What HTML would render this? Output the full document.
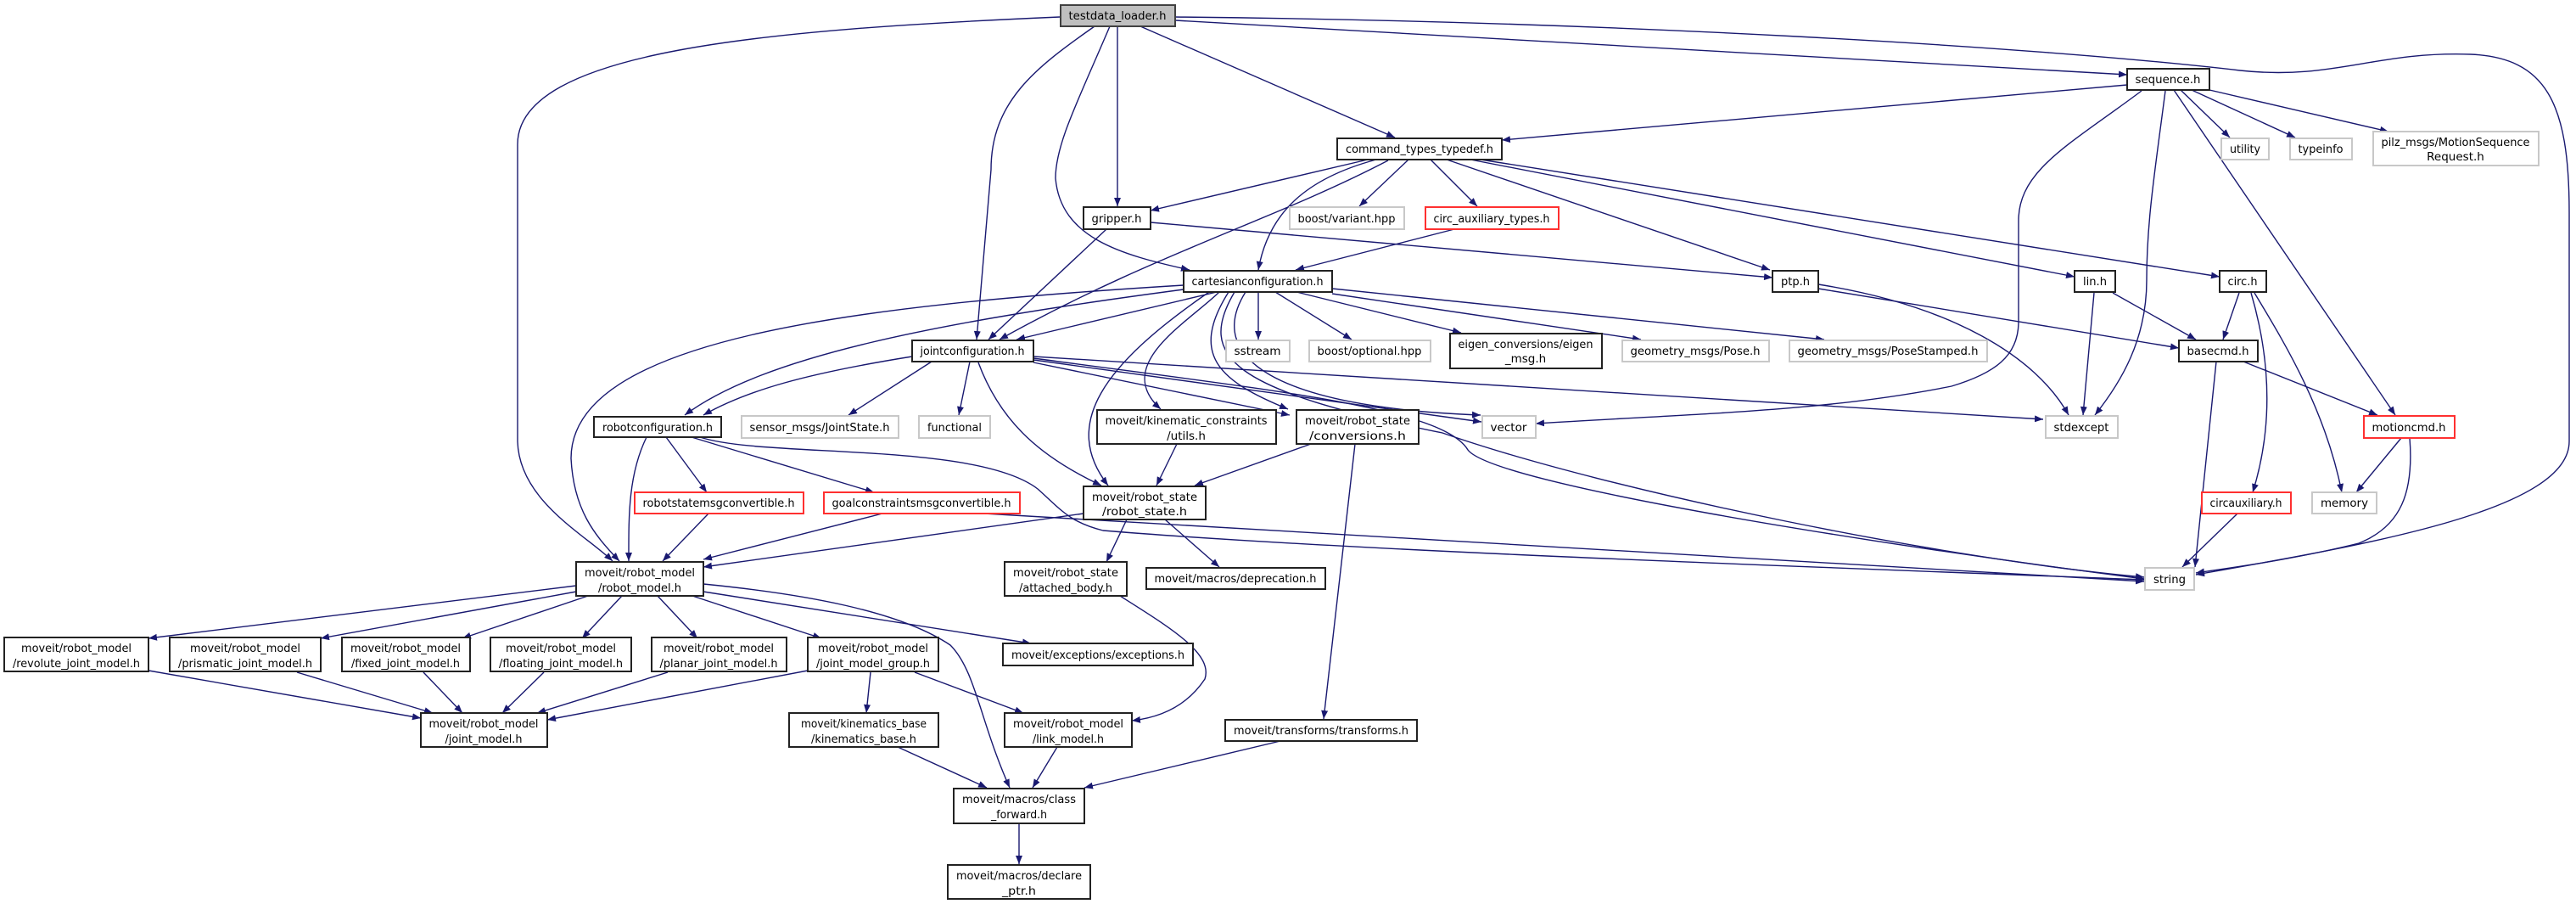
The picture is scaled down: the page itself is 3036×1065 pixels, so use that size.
<!DOCTYPE html>
<html><head><meta charset="utf-8"><style>
html,body{margin:0;padding:0;background:#fff;}
svg{display:block}
text{font-family:"DejaVu Sans","Liberation Sans",sans-serif;font-size:13.5px;fill:#000;text-anchor:middle}
.b{fill:#fff;stroke:#222;stroke-width:2}
.g{fill:#fff;stroke:#c8c8c8;stroke-width:2}
.r{fill:#fff;stroke:#ff3030;stroke-width:2}
.e{fill:none;stroke:#191970;stroke-width:1.4;marker-end:url(#a)}
</style></head><body>
<svg width="3036" height="1065" viewBox="0 0 3036 1065" xmlns="http://www.w3.org/2000/svg">
<defs><marker id="a" viewBox="0 0 10 8" refX="10" refY="4" markerWidth="10" markerHeight="8" markerUnits="userSpaceOnUse" orient="auto"><path d="M0,0 L10,4 L0,8 z" fill="#191970"/></marker></defs>
<g>
<path class="e" d="M1249,20 C900,35 610,60 610,170 L610,520 C612,590 690,630 722,661"/>
<path class="e" d="M1290,31 C1220,80 1168,120 1168,200 L1151,400"/>
<path class="e" d="M1308,31 C1270,120 1244,170 1244,210 C1250,280 1320,300 1402,318"/>
<path class="e" d="M1317,31 L1317,243"/>
<path class="e" d="M1344,31 L1644,162"/>
<path class="e" d="M1385,24 L2507,88"/>
<path class="e" d="M1385,20 C1900,25 2400,55 2640,83 C2750,95 2800,60 2912,64 C3000,68 3028,120 3028,250 L3028,520 C3028,600 2800,640 2588,677"/>
<path class="e" d="M2507,100 L1770,165"/>
<path class="e" d="M2570,106 L2628,162"/>
<path class="e" d="M2583,106 L2705,162"/>
<path class="e" d="M2604,106 L2815,155"/>
<path class="e" d="M2562,106 L2823,489"/>
<path class="e" d="M2552,107 C2540,200 2530,260 2530,330 C2530,400 2500,450 2469,489"/>
<path class="e" d="M2524,107 C2440,170 2379,200 2379,260 L2379,379 C2379,420 2350,440 2300,455 C2150,485 2000,487 1810,499"/>
<path class="e" d="M1612,188 L1356,248"/>
<path class="e" d="M1636,189 C1500,260 1357,300 1178,400"/>
<path class="e" d="M1622,188 C1540,210 1495,250 1483,318"/>
<path class="e" d="M1660,188 L1602,243"/>
<path class="e" d="M1686,188 L1741,243"/>
<path class="e" d="M1705,188 L2086,318"/>
<path class="e" d="M1733,188 L2445,326"/>
<path class="e" d="M1745,188 L2616,326"/>
<path class="e" d="M1304,270 L1165,400"/>
<path class="e" d="M1356,262 L2089,327"/>
<path class="e" d="M1714,270 L1527,318"/>
<path class="e" d="M1434,344 L1198,400"/>
<path class="e" d="M1395,336 C1000,360 673,400 673,540 C676,600 700,630 730,661"/>
<path class="e" d="M1395,341 C1100,380 900,420 807,489"/>
<path class="e" d="M1483,344 L1483,400"/>
<path class="e" d="M1503,344 L1593,400"/>
<path class="e" d="M1528,344 L1722,392"/>
<path class="e" d="M1570,346 L1934,400"/>
<path class="e" d="M1570,340 L2150,400"/>
<path class="e" d="M1437,344 C1400,380 1310,430 1368,482"/>
<path class="e" d="M1448,344 C1400,420 1440,450 1518,482"/>
<path class="e" d="M1468,344 C1420,420 1500,480 1745,489"/>
<path class="e" d="M1425,344 C1300,430 1250,500 1306,572"/>
<path class="e" d="M1455,344 C1410,420 1450,460 1700,510 C1900,580 2300,660 2527,680"/>
<path class="e" d="M1098,426 L1000,489"/>
<path class="e" d="M1143,426 L1130,489"/>
<path class="e" d="M1153,427 C1180,500 1230,540 1298,572"/>
<path class="e" d="M1218,427 L1520,489"/>
<path class="e" d="M1218,424 L1746,497"/>
<path class="e" d="M1218,420 L2408,494"/>
<path class="e" d="M1218,422 C1500,460 1700,480 1730,530 C1760,570 2200,640 2527,682"/>
<path class="e" d="M1075,420 C950,440 880,460 829,489"/>
<path class="e" d="M762,515 C740,560 741,610 741,661"/>
<path class="e" d="M785,515 L833,580"/>
<path class="e" d="M815,515 L1030,580"/>
<path class="e" d="M825,515 C900,540 1150,520 1223,576 C1250,600 1260,615 1300,625 C1600,650 2200,670 2527,683"/>
<path class="e" d="M1040,605 L829,659"/>
<path class="e" d="M1160,605 L2527,685"/>
<path class="e" d="M835,605 L781,661"/>
<path class="e" d="M1277,605 L829,668"/>
<path class="e" d="M1328,612 L1304,662"/>
<path class="e" d="M1373,612 L1437,668"/>
<path class="e" d="M1387,523 L1363,572"/>
<path class="e" d="M1545,523 L1408,572"/>
<path class="e" d="M1597,523 L1560,847"/>
<path class="e" d="M679,690 L175,752"/>
<path class="e" d="M679,697 L378,752"/>
<path class="e" d="M693,702 L545,752"/>
<path class="e" d="M733,702 L686,752"/>
<path class="e" d="M775,702 L822,752"/>
<path class="e" d="M816,702 L968,752"/>
<path class="e" d="M829,697 L1215,758"/>
<path class="e" d="M829,688 C950,700 1060,720 1120,760 C1150,790 1155,850 1190,928"/>
<path class="e" d="M175,790 L496,846"/>
<path class="e" d="M350,792 L510,840"/>
<path class="e" d="M499,792 L545,840"/>
<path class="e" d="M641,792 L592,840"/>
<path class="e" d="M787,792 L633,840"/>
<path class="e" d="M952,790 L645,848"/>
<path class="e" d="M1026,792 L1021,840"/>
<path class="e" d="M1078,792 L1206,840"/>
<path class="e" d="M1320,702 C1380,740 1430,770 1420,800 C1400,830 1370,845 1334,849"/>
<path class="e" d="M1058,880 L1163,928"/>
<path class="e" d="M1246,880 L1217,928"/>
<path class="e" d="M1509,873 L1278,928"/>
<path class="e" d="M1201,970 L1201,1018"/>
<path class="e" d="M2143,335 C2300,360 2400,420 2438,489"/>
<path class="e" d="M2143,340 L2568,410"/>
<path class="e" d="M2490,345 L2588,400"/>
<path class="e" d="M2468,345 L2455,489"/>
<path class="e" d="M2639,345 L2620,400"/>
<path class="e" d="M2653,345 C2675,420 2680,500 2655,580"/>
<path class="e" d="M2657,345 C2690,400 2740,480 2760,580"/>
<path class="e" d="M2612,426 L2587,668"/>
<path class="e" d="M2644,426 L2802,489"/>
<path class="e" d="M2830,516 L2777,580"/>
<path class="e" d="M2840,516 C2845,580 2830,620 2780,640 C2700,660 2620,670 2588,675"/>
<path class="e" d="M2637,605 L2572,668"/>
</g>
<g>
<rect x="1250" y="6" width="135" height="25" fill="#bfbfbf" stroke="#404040" stroke-width="2"/><text x="1317" y="23" textLength="115" lengthAdjust="spacingAndGlyphs">testdata_loader.h</text>
<rect class="b" x="1576" y="163" width="194" height="25"/><text x="1673" y="180" textLength="174" lengthAdjust="spacingAndGlyphs">command_types_typedef.h</text>
<rect class="b" x="1277" y="244" width="79" height="26"/><text x="1316" y="262" textLength="59" lengthAdjust="spacingAndGlyphs">gripper.h</text>
<rect class="g" x="1520" y="244" width="135" height="26"/><text x="1587" y="262" textLength="115" lengthAdjust="spacingAndGlyphs">boost/variant.hpp</text>
<rect class="r" x="1680" y="244" width="157" height="26"/><text x="1758" y="262" textLength="137" lengthAdjust="spacingAndGlyphs">circ_auxiliary_types.h</text>
<rect class="b" x="1395" y="319" width="175" height="25"/><text x="1482" y="336" textLength="155" lengthAdjust="spacingAndGlyphs">cartesianconfiguration.h</text>
<rect class="b" x="1075" y="401" width="143" height="25"/><text x="1146" y="418" textLength="123" lengthAdjust="spacingAndGlyphs">jointconfiguration.h</text>
<rect class="g" x="1445" y="401" width="75" height="25"/><text x="1482" y="418" textLength="55" lengthAdjust="spacingAndGlyphs">sstream</text>
<rect class="g" x="1543" y="401" width="143" height="25"/><text x="1614" y="418" textLength="123" lengthAdjust="spacingAndGlyphs">boost/optional.hpp</text>
<rect class="b" x="1709" y="393" width="179" height="41"/><text x="1798" y="410" textLength="159" lengthAdjust="spacingAndGlyphs">eigen_conversions/eigen</text><text x="1798" y="427">_msg.h</text>
<rect class="g" x="1912" y="401" width="173" height="25"/><text x="1998" y="418" textLength="153" lengthAdjust="spacingAndGlyphs">geometry_msgs/Pose.h</text>
<rect class="g" x="2109" y="401" width="233" height="25"/><text x="2225" y="418" textLength="213" lengthAdjust="spacingAndGlyphs">geometry_msgs/PoseStamped.h</text>
<rect class="g" x="874" y="490" width="185" height="26"/><text x="966" y="508" textLength="165" lengthAdjust="spacingAndGlyphs">sensor_msgs/JointState.h</text>
<rect class="g" x="1083" y="490" width="84" height="26"/><text x="1125" y="508" textLength="64" lengthAdjust="spacingAndGlyphs">functional</text>
<rect class="b" x="700" y="491" width="150" height="24"/><text x="775" y="508" textLength="130" lengthAdjust="spacingAndGlyphs">robotconfiguration.h</text>
<rect class="b" x="1293" y="483" width="211" height="40"/><text x="1398" y="500" textLength="191" lengthAdjust="spacingAndGlyphs">moveit/kinematic_constraints</text><text x="1398" y="518">/utils.h</text>
<rect class="b" x="1528" y="483" width="144" height="40"/><text x="1600" y="500" textLength="124" lengthAdjust="spacingAndGlyphs">moveit/robot_state</text><text x="1600" y="518" textLength="114" lengthAdjust="spacingAndGlyphs">/conversions.h</text>
<rect class="g" x="1747" y="490" width="63" height="26"/><text x="1778" y="508" textLength="43" lengthAdjust="spacingAndGlyphs">vector</text>
<rect class="b" x="2507" y="81" width="97" height="25"/><text x="2555" y="98" textLength="77" lengthAdjust="spacingAndGlyphs">sequence.h</text>
<rect class="g" x="2618" y="163" width="56" height="25"/><text x="2646" y="180" textLength="36" lengthAdjust="spacingAndGlyphs">utility</text>
<rect class="g" x="2699" y="163" width="73" height="25"/><text x="2735" y="180" textLength="53" lengthAdjust="spacingAndGlyphs">typeinfo</text>
<rect class="g" x="2797" y="155" width="195" height="40"/><text x="2894" y="172" textLength="175" lengthAdjust="spacingAndGlyphs">pilz_msgs/MotionSequence</text><text x="2894" y="189">Request.h</text>
<rect class="b" x="2089" y="319" width="54" height="25"/><text x="2116" y="336" textLength="34" lengthAdjust="spacingAndGlyphs">ptp.h</text>
<rect class="b" x="2445" y="319" width="48" height="25"/><text x="2469" y="336" textLength="28" lengthAdjust="spacingAndGlyphs">lin.h</text>
<rect class="b" x="2616" y="319" width="55" height="25"/><text x="2643" y="336" textLength="35" lengthAdjust="spacingAndGlyphs">circ.h</text>
<rect class="b" x="2568" y="401" width="93" height="25"/><text x="2614" y="418" textLength="73" lengthAdjust="spacingAndGlyphs">basecmd.h</text>
<rect class="g" x="2411" y="490" width="85" height="26"/><text x="2453" y="508" textLength="65" lengthAdjust="spacingAndGlyphs">stdexcept</text>
<rect class="r" x="2786" y="490" width="107" height="26"/><text x="2839" y="508" textLength="87" lengthAdjust="spacingAndGlyphs">motioncmd.h</text>
<rect class="r" x="2595" y="580" width="105" height="25"/><text x="2647" y="597" textLength="85" lengthAdjust="spacingAndGlyphs">circauxiliary.h</text>
<rect class="g" x="2725" y="580" width="76" height="25"/><text x="2763" y="597" textLength="56" lengthAdjust="spacingAndGlyphs">memory</text>
<rect class="g" x="2528" y="669" width="58" height="26"/><text x="2557" y="687" textLength="38" lengthAdjust="spacingAndGlyphs">string</text>
<rect class="r" x="748" y="580" width="199" height="25"/><text x="847" y="597" textLength="179" lengthAdjust="spacingAndGlyphs">robotstatemsgconvertible.h</text>
<rect class="r" x="971" y="580" width="231" height="25"/><text x="1086" y="597" textLength="211" lengthAdjust="spacingAndGlyphs">goalconstraintsmsgconvertible.h</text>
<rect class="b" x="679" y="662" width="150" height="40"/><text x="754" y="679" textLength="130" lengthAdjust="spacingAndGlyphs">moveit/robot_model</text><text x="754" y="697" textLength="98" lengthAdjust="spacingAndGlyphs">/robot_model.h</text>
<rect class="b" x="5" y="751" width="170" height="40"/><text x="90" y="768" textLength="130" lengthAdjust="spacingAndGlyphs">moveit/robot_model</text><text x="90" y="786" textLength="150" lengthAdjust="spacingAndGlyphs">/revolute_joint_model.h</text>
<rect class="b" x="200" y="751" width="178" height="40"/><text x="289" y="768" textLength="130" lengthAdjust="spacingAndGlyphs">moveit/robot_model</text><text x="289" y="786" textLength="158" lengthAdjust="spacingAndGlyphs">/prismatic_joint_model.h</text>
<rect class="b" x="403" y="751" width="151" height="40"/><text x="478" y="768" textLength="130" lengthAdjust="spacingAndGlyphs">moveit/robot_model</text><text x="478" y="786" textLength="128" lengthAdjust="spacingAndGlyphs">/fixed_joint_model.h</text>
<rect class="b" x="578" y="751" width="166" height="40"/><text x="661" y="768" textLength="130" lengthAdjust="spacingAndGlyphs">moveit/robot_model</text><text x="661" y="786" textLength="146" lengthAdjust="spacingAndGlyphs">/floating_joint_model.h</text>
<rect class="b" x="768" y="751" width="159" height="40"/><text x="847" y="768" textLength="130" lengthAdjust="spacingAndGlyphs">moveit/robot_model</text><text x="847" y="786" textLength="139" lengthAdjust="spacingAndGlyphs">/planar_joint_model.h</text>
<rect class="b" x="952" y="751" width="154" height="40"/><text x="1029" y="768" textLength="130" lengthAdjust="spacingAndGlyphs">moveit/robot_model</text><text x="1029" y="786" textLength="134" lengthAdjust="spacingAndGlyphs">/joint_model_group.h</text>
<rect class="b" x="496" y="840" width="149" height="40"/><text x="570" y="857" textLength="129" lengthAdjust="spacingAndGlyphs">moveit/robot_model</text><text x="570" y="875" textLength="91" lengthAdjust="spacingAndGlyphs">/joint_model.h</text>
<rect class="b" x="930" y="840" width="176" height="40"/><text x="1018" y="857" textLength="148" lengthAdjust="spacingAndGlyphs">moveit/kinematics_base</text><text x="1018" y="875" textLength="124" lengthAdjust="spacingAndGlyphs">/kinematics_base.h</text>
<rect class="b" x="1277" y="573" width="144" height="39"/><text x="1349" y="590" textLength="124" lengthAdjust="spacingAndGlyphs">moveit/robot_state</text><text x="1349" y="607" textLength="100" lengthAdjust="spacingAndGlyphs">/robot_state.h</text>
<rect class="b" x="1184" y="662" width="144" height="40"/><text x="1256" y="679" textLength="124" lengthAdjust="spacingAndGlyphs">moveit/robot_state</text><text x="1256" y="697" textLength="110" lengthAdjust="spacingAndGlyphs">/attached_body.h</text>
<rect class="b" x="1351" y="669" width="211" height="25"/><text x="1456" y="686" textLength="191" lengthAdjust="spacingAndGlyphs">moveit/macros/deprecation.h</text>
<rect class="b" x="1182" y="758" width="224" height="26"/><text x="1294" y="776" textLength="204" lengthAdjust="spacingAndGlyphs">moveit/exceptions/exceptions.h</text>
<rect class="b" x="1184" y="840" width="150" height="40"/><text x="1259" y="857" textLength="130" lengthAdjust="spacingAndGlyphs">moveit/robot_model</text><text x="1259" y="875" textLength="84" lengthAdjust="spacingAndGlyphs">/link_model.h</text>
<rect class="b" x="1444" y="848" width="226" height="25"/><text x="1557" y="865" textLength="206" lengthAdjust="spacingAndGlyphs">moveit/transforms/transforms.h</text>
<rect class="b" x="1124" y="929" width="154" height="41"/><text x="1201" y="946" textLength="134" lengthAdjust="spacingAndGlyphs">moveit/macros/class</text><text x="1201" y="964" textLength="66" lengthAdjust="spacingAndGlyphs">_forward.h</text>
<rect class="b" x="1117" y="1019" width="168" height="40"/><text x="1201" y="1036" textLength="148" lengthAdjust="spacingAndGlyphs">moveit/macros/declare</text><text x="1201" y="1054" textLength="40" lengthAdjust="spacingAndGlyphs">_ptr.h</text>
</g>
</svg>
</body></html>
